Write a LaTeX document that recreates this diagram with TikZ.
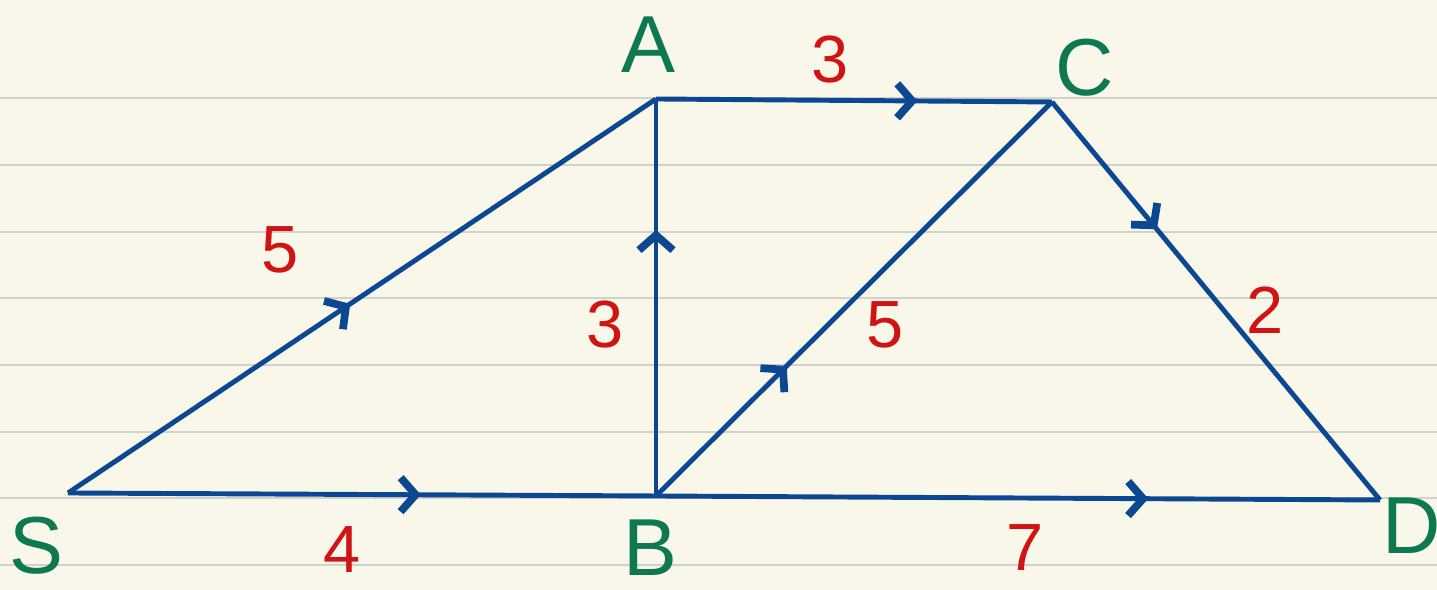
\documentclass[tikz,border=0pt]{standalone}
\usepackage{fontspec}
\setmainfont{Liberation Sans}
\usetikzlibrary{arrows.meta,decorations.markings}
\definecolor{cpaper}{RGB}{248,247,233}
\definecolor{crule}{RGB}{210,210,205}
\definecolor{cedge}{RGB}{12,72,145}
\definecolor{cvert}{RGB}{14,120,80}
\definecolor{cwt}{RGB}{208,20,20}
\tikzset{
  edge/.style={cedge, line width=1.4pt},
  midarrow/.style={postaction={decorate,decoration={markings,
      mark=at position #1 with {\arrow[cedge,line width=2.2pt]{Straight Barb[length=1.5mm,width=3.4mm]}}}}},
  vlabel/.style={cvert, font=\fontsize{23}{23}\selectfont},
  wlabel/.style={cwt, font=\fontsize{19}{19}\selectfont}
}

\begin{document}
\begin{tikzpicture}
  % paper
  \fill[cpaper] (0,0) rectangle (14.37,5.90);
  \useasboundingbox (0,0) rectangle (14.37,5.90);
  \foreach \y in {4.92,4.25,3.58,2.92,2.25,1.58,0.92,0.25}
    \draw[crule, line width=0.6pt] (0,\y) -- (14.37,\y);

  % vertices
  \coordinate (S) at (0.68,0.97);
  \coordinate (A) at (6.56,4.91);
  \coordinate (B) at (6.56,0.94);
  \coordinate (C) at (10.52,4.88);
  \coordinate (D) at (13.80,0.90);

  \node[vlabel] (lS) at (0.36,0.44) {S};
  \node[vlabel] (lA) at (6.48,5.45) {A};
  \node[vlabel] (lB) at (6.50,0.42) {B};
  \node[vlabel] (lC) at (10.85,5.22) {C};
  \node[vlabel] (lD) at (14.12,0.64) {D};

  % edges
  \draw[edge, midarrow=0.48] (S) -- (A);
  \draw[edge, midarrow=0.60] (S) -- (B);
  \draw[edge, midarrow=0.67] (B) -- (A);
  \draw[edge, midarrow=0.66] (A) -- (C);
  \draw[edge, midarrow=0.33] (B) -- (C);
  \draw[edge, midarrow=0.32] (C) -- (D);
  \draw[edge, midarrow=0.68] (B) -- (D);

  % weights
  \node[wlabel] (wSA) at (2.80,3.40) {5};
  \node[wlabel] (wSB) at (3.42,0.40) {4};
  \node[wlabel] (wBA) at (6.05,2.65) {3};
  \node[wlabel] (wAC) at (8.30,5.30) {3};
  \node[wlabel] (wBC) at (8.85,2.65) {5};
  \node[wlabel] (wCD) at (12.65,2.80) {2};
  \node[wlabel] (wBD) at (10.25,0.42) {7};
\end{tikzpicture}
\end{document}
